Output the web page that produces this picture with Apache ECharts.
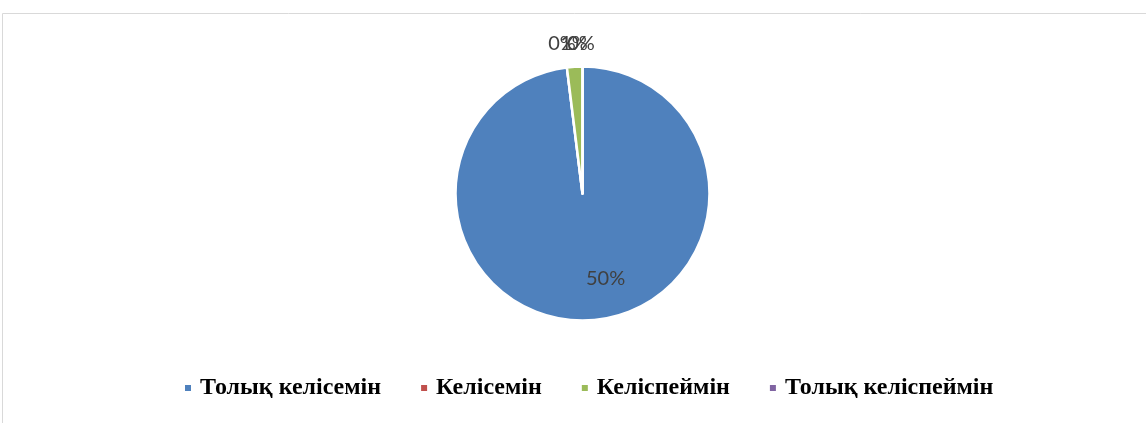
<!DOCTYPE html>
<html>
<head>
<meta charset="utf-8">
<script src="https://cdn.jsdelivr.net/npm/echarts@6/dist/echarts.min.js"></script>
<style>
  html, body { margin: 0; padding: 0; background: #fff; }
  #chart { width: 1146px; height: 423px; }
</style>
</head>
<body>
<div id="chart"></div>
<script>
// answers (share of respondents) and their colours
var categories = ['Толық келісемін', 'Келісемін', 'Келіспеймін', 'Толық келіспеймін'];
var values = [0.5, 0, 0.01, 0];
var colors = ['#4F81BD', '#C0504D', '#9BBB59', '#8064A2'];

var chart = echarts.init(document.getElementById('chart'));

var option = {
    animation: false,
    graphic: [{
        type: 'rect',
        shape: { x: 2.5, y: 13.5, width: 1160, height: 420 },
        style: { fill: 'none', stroke: '#d9d9d9', lineWidth: 1 },
        silent: true
    }],
    legend: {
        top: 371,
        left: 178,
        itemWidth: 8,
        itemHeight: 8,
        itemGap: 38,
        icon: 'rect',
        textStyle: {
            fontFamily: 'Liberation Serif',
            fontWeight: 'bold',
            fontSize: 24,
            lineHeight: 24,
            color: '#000',
            padding: [0, 0, 0, 3]
        },
        data: categories
    },
    series: [{
        type: 'pie',
        center: [582.5, 193.5],
        radius: [0, 127],
        startAngle: 90,
        clockwise: true,
        stillShowZeroSum: true,
        itemStyle: { borderColor: '#fff', borderWidth: 2.5 },
        label: {
            show: true,
            position: 'outside',
            formatter: function (p) { return Math.round(p.value * 100) + '%'; },
            fontFamily: 'Lato',
            fontSize: 20,
            color: '#404040'
        },
        labelLine: { show: false },
        labelLayout: function (p) {
            var spots = [null, { x: 562, y: 44 }, { x: 574, y: 44 }, { x: 581, y: 44 }];
            var s = spots[p.dataIndex];
            if (!s) return {};
            return { x: s.x, y: s.y, align: 'center', verticalAlign: 'middle' };
        },
        data: categories.map(function (name, i) {
            var item = { name: name, value: values[i], itemStyle: { color: colors[i] } };
            if (i === 0) {
                item.label = { position: 'inside', offset: [19, 19] };
            }
            return item;
        })
    }]
};
chart.setOption(option);
</script>
</body>
</html>
